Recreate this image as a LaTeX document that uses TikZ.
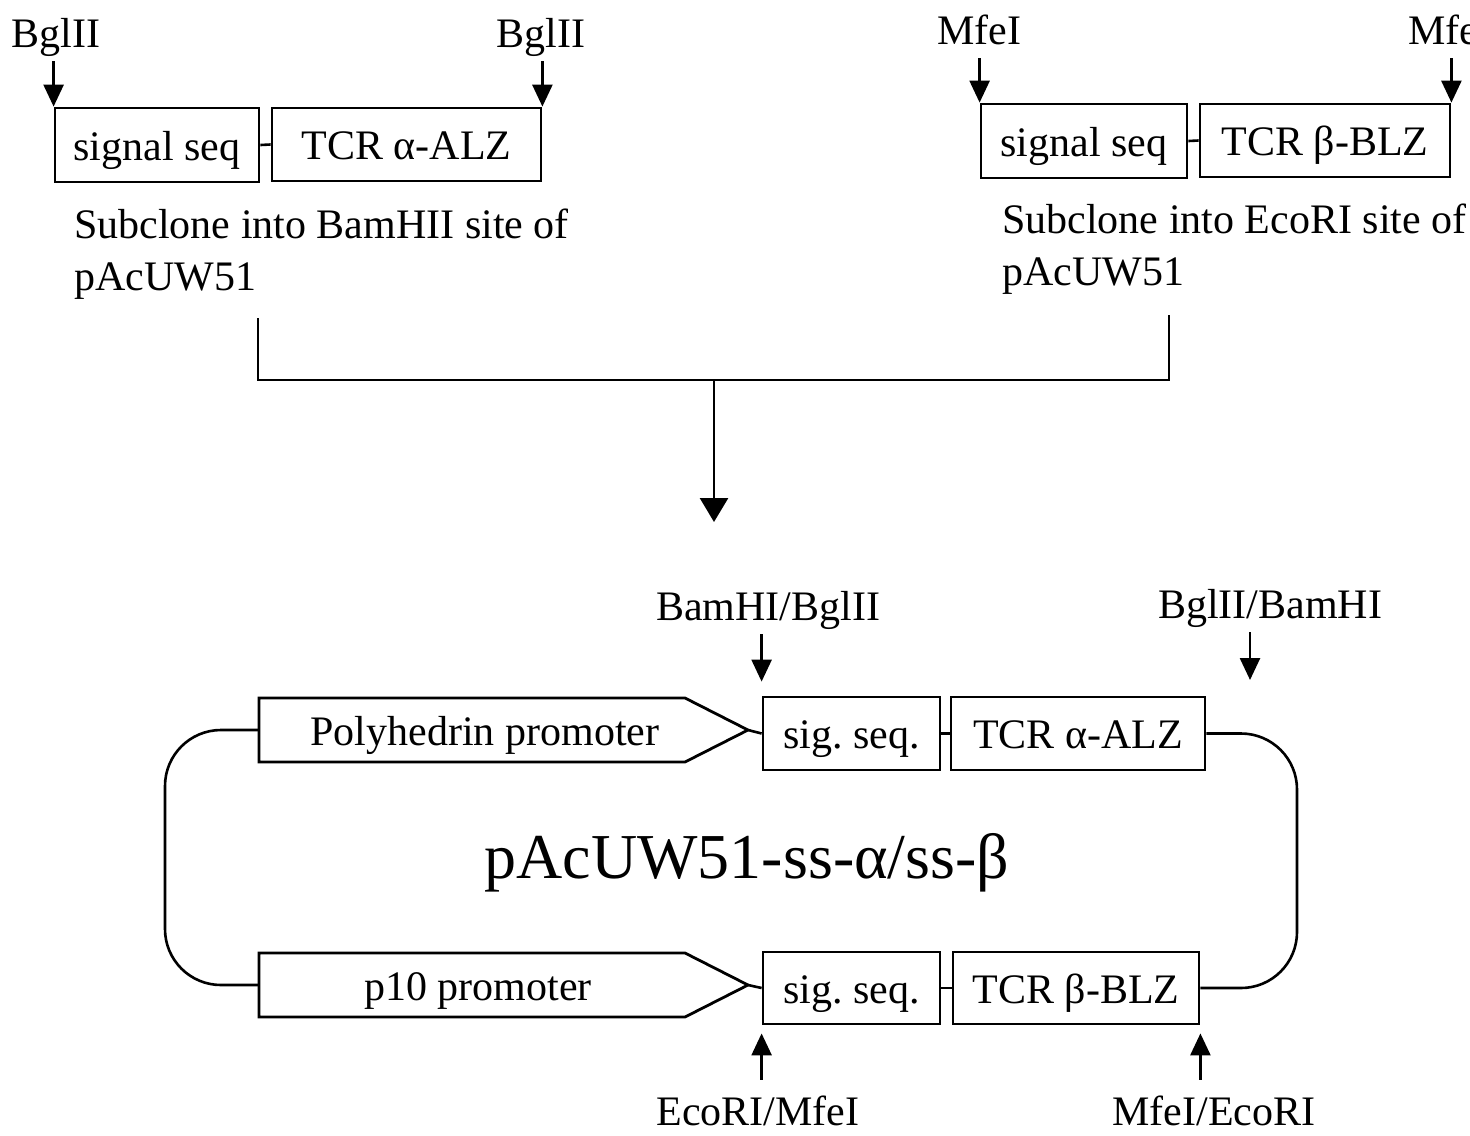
\documentclass[tikz,border=0pt]{standalone}
\usepackage{fontspec}
\setmainfont{Liberation Serif}
\usetikzlibrary{arrows.meta,calc}
\begin{document}
\frenchspacing
\begin{tikzpicture}[x=0.5pt,y=-0.5pt, line width=1.3pt,
  box/.style={draw, line width=1.4pt, inner sep=0pt, font=\fontsize{21}{25}\selectfont, text height=17pt, text depth=2pt},
  lab/.style={font=\fontsize{21}{25}\selectfont, inner sep=2pt, text height=15pt, text depth=4.5pt, anchor=base},
  para/.style={font=\fontsize{21}{26}\selectfont, align=left, anchor=north west, inner sep=0pt},
  arr/.style={-{Triangle[length=11pt,width=10pt]}},
  bigarr/.style={-{Triangle[length=12pt,width=14pt]}},
  promo/.style={draw, line width=1.4pt},
  ptext/.style={font=\fontsize{21}{25}\selectfont, inner sep=0pt, text height=17pt, text depth=2pt}
]
\clip (0,0) rectangle (1470,1135);

% ---------- top left construct ----------
\node[box, minimum width=102pt, minimum height=37pt] (ss1) at (157,145) {signal seq};
\node[box, minimum width=134.5pt, minimum height=36.5pt] (tcra1) at (406.5,144.5) {TCR α-ALZ};
\draw (ss1.east) -- (tcra1.west);
\node[lab] (bgl1) at (56,47) {BglII};
\node[lab] (bgl2) at (541,47) {BglII};
\draw[arr] (bgl1.south -| ss1.north west) -- (ss1.north west);
\draw[arr] (bgl2.south -| tcra1.north east) -- (tcra1.north east);
\node[para] (sub1) at (73,208) {Subclone into BamHII site of\\pAcUW51};

% ---------- top right construct ----------
\node[box, minimum width=103pt, minimum height=37pt] (ss2) at (1084,141) {signal seq};
\node[box, minimum width=125pt, minimum height=36.5pt] (tcrb2) at (1325,140.5) {TCR β-BLZ};
\draw (ss2.east) -- (tcrb2.west);
\node[lab] (mfe1) at (979,44) {MfeI};
\node[lab] (mfe2) at (1450,44) {MfeI};
\draw[arr] (mfe1.south -| ss2.north west) -- (ss2.north west);
\draw[arr] (mfe2.south -| tcrb2.north east) -- (tcrb2.north east);
\node[para] (sub2) at (1001,203) {Subclone into EcoRI site of\\pAcUW51};

% ---------- bracket and arrow ----------
\coordinate (brL) at (258,318);
\coordinate (brR) at (1169,315);
\coordinate (brM) at (714,380);
\coordinate (brEnd) at (714,522);
\draw (brL) |- (brM) -| (brR);
\draw[bigarr] (brM) -- (brEnd);

% ---------- bottom plasmid ----------
\draw[promo] (259,698) -- (685,698) -- (748,730) -- (685,762) -- (259,762) -- cycle;
\node[ptext] (poly) at (485,730) {Polyhedrin promoter};
\coordinate (polytip) at (748,730);
\coordinate (polyL) at (259,730);

\draw[promo] (259,953) -- (685,953) -- (748,985) -- (685,1017) -- (259,1017) -- cycle;
\node[ptext] (p10) at (478,985) {p10 promoter};
\coordinate (p10tip) at (748,985);
\coordinate (p10L) at (259,985);

\node[box, minimum width=88.5pt, minimum height=36.5pt] (sig1) at (851.5,733.5) {sig. seq.};
\node[box, minimum width=127pt, minimum height=36.5pt] (tcra) at (1078,733.5) {TCR α-ALZ};
\node[box, minimum width=88.5pt, minimum height=36pt] (sig2) at (851.5,988) {sig. seq.};
\node[box, minimum width=123pt, minimum height=36pt] (tcrb) at (1076,988) {TCR β-BLZ};

\draw (polytip) -- (sig1.west);
\draw (sig1.east) -- (tcra.west);
\draw (p10tip) -- (sig2.west);
\draw (sig2.east) -- (tcrb.west);

\coordinate (lloop) at (165,860);
\coordinate (rloop) at (1297,860);
\draw[rounded corners=28pt] (polyL) -| (lloop) |- (p10L);
\draw[rounded corners=28pt] (tcra.east) -| (rloop) |- (tcrb.east);

\node[font=\fontsize{32}{38}\selectfont, anchor=base, inner sep=0pt] (title) at (747,878) {pAcUW51-ss-α/ss-β};

% ---------- site labels ----------
\node[lab] (bamlab) at (768,620) {BamHI/BglII};
\draw[arr, shorten >=7pt] (bamlab.south -| sig1.north west) -- (sig1.north west);
\node[lab] (bgllab) at (1270,618) {BglII/BamHI};
\coordinate (bglsite) at (1250,680);
\draw[arr] (bgllab.south -| bglsite) -- (bglsite);
\node[lab] (ecolab) at (758,1125) {EcoRI/MfeI};
\draw[arr, shorten <=5pt, shorten >=4pt] (ecolab.north -| sig2.south west) -- (sig2.south west);
\node[lab] (mfelab) at (1214,1125) {MfeI/EcoRI};
\draw[arr, shorten <=5pt, shorten >=4pt] (mfelab.north -| tcrb.south east) -- (tcrb.south east);
\end{tikzpicture}
\end{document}
